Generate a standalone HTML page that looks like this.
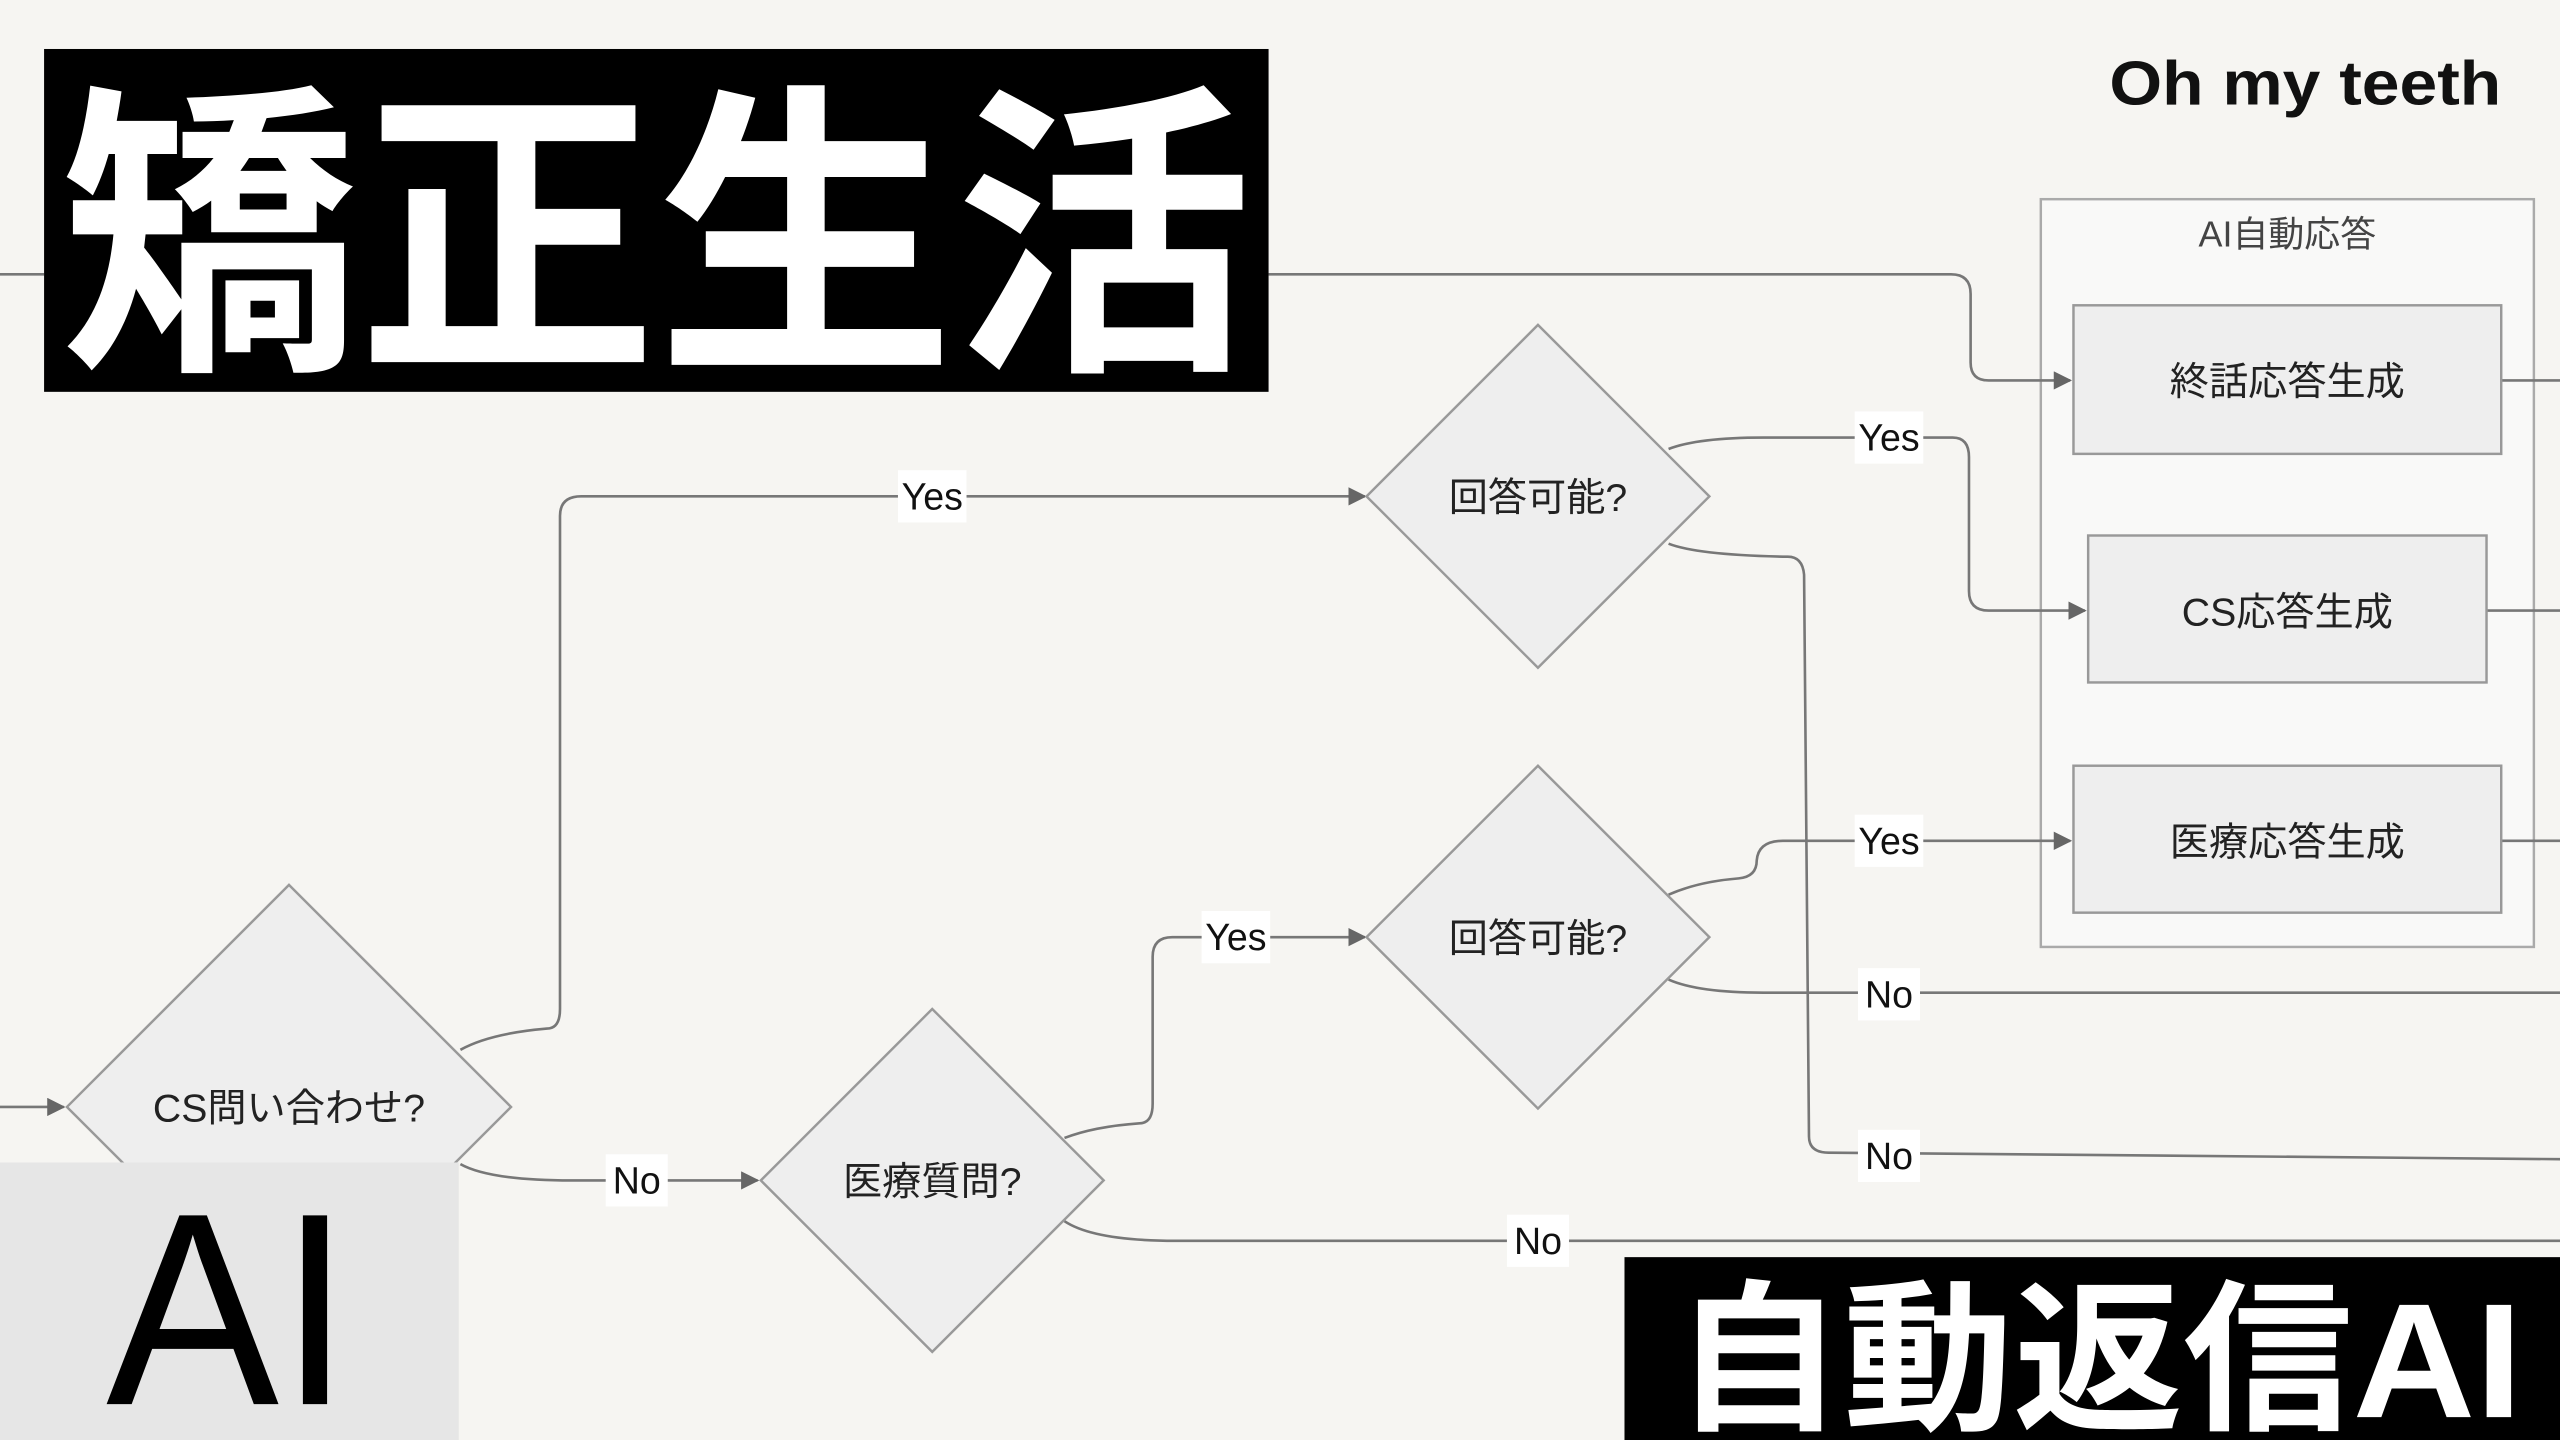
<!DOCTYPE html>
<html><head><meta charset="utf-8"><style>
html,body{margin:0;padding:0;background:#f6f5f2;}
svg{display:block;}
</style></head><body>
<svg width="2560" height="1440" viewBox="0 0 1568 882" preserveAspectRatio="none" xmlns="http://www.w3.org/2000/svg" font-family="'Liberation Sans','Noto Sans CJK JP',sans-serif">
<defs><marker id="a" viewBox="0 0 10 10" refX="9" refY="5" markerWidth="7" markerHeight="7" orient="auto"><path d="M0,0L10,5L0,10z" fill="#666"/></marker></defs>
<rect width="1568" height="882" fill="#f6f5f2"/>
<rect x="1250" y="122" width="302" height="458" fill="#f9f9f8" stroke="#aaa" stroke-width="1.5"/>
<text x="1401" y="151" font-size="22" text-anchor="middle" fill="#444">AI自動応答</text>
<g fill="none" stroke="#777" stroke-width="1.6">
<path d="M0,168 H27"/>
<path d="M777,168 H1195 Q1207,168 1207,180 V222 Q1207,233 1218,233 H1268" marker-end="url(#a)"/>
<path d="M1532,233 H1568"/><path d="M1523,374 H1568"/><path d="M1532,515 H1568"/>
<path d="M0,678 H39" marker-end="url(#a)"/>
<path d="M282,643 Q300,633 335,630 Q343,630 343,618 V316 Q343,304 356,304 H836" marker-end="url(#a)"/>
<path d="M282,713 Q300,723 350,723 H464" marker-end="url(#a)"/>
<path d="M652,697 Q670,690 698,688 Q706,688 706,676 V586 Q706,574 718,574 H836" marker-end="url(#a)"/>
<path d="M652,748 Q670,760 720,760 H1568"/>
<path d="M1022,275 Q1040,268 1080,268 H1196 Q1206,268 1206,280 V362 Q1206,374 1218,374 H1277" marker-end="url(#a)"/>
<path d="M1022,333 Q1040,340 1095,341 Q1104,341 1105,352 L1108,696 Q1108,706 1120,706 L1568,710"/>
<path d="M1022,548 Q1040,540 1065,538 Q1076,537 1076,527 Q1077,515 1092,515 H1268" marker-end="url(#a)"/>
<path d="M1022,600 Q1040,608 1080,608 H1568"/>
</g>
<g fill="#eeeeee" stroke="#999" stroke-width="1.5">
<rect x="1270" y="187" width="262" height="91"/>
<rect x="1279" y="328" width="244" height="90"/>
<rect x="1270" y="469" width="262" height="90"/>
<polygon points="942,199 1047,304 942,409 837,304"/>
<polygon points="942,469 1047,574 942,679 837,574"/>
<polygon points="177,542 313,678 177,814 41,678"/>
<polygon points="571,618 676,723 571,828 466,723"/>
</g>
<g font-size="24" fill="#222" text-anchor="middle">
<text x="1401" y="242">終話応答生成</text>
<text x="1401" y="383">CS応答生成</text>
<text x="1401" y="524">医療応答生成</text>
<text x="942" y="313">回答可能?</text>
<text x="942" y="583">回答可能?</text>
<text x="177" y="687">CS問い合わせ?</text>
<text x="571" y="732">医療質問?</text>
</g>
<g font-size="23" fill="#111" text-anchor="middle">
<rect x="550" y="288" width="42" height="32" fill="#fff"/><text x="571" y="312">Yes</text>
<rect x="371" y="707" width="38" height="32" fill="#fff"/><text x="390" y="731">No</text>
<rect x="736" y="558" width="42" height="32" fill="#fff"/><text x="757" y="582">Yes</text>
<rect x="923" y="744" width="38" height="32" fill="#fff"/><text x="942" y="768">No</text>
<rect x="1136" y="252" width="42" height="32" fill="#fff"/><text x="1157" y="276">Yes</text>
<rect x="1136" y="499" width="42" height="32" fill="#fff"/><text x="1157" y="523">Yes</text>
<rect x="1138" y="593" width="38" height="32" fill="#fff"/><text x="1157" y="617">No</text>
<rect x="1138" y="692" width="38" height="32" fill="#fff"/><text x="1157" y="716">No</text>
</g>
<rect x="27" y="30" width="750" height="210" fill="#000"/>
<text x="402" y="212" font-size="188" font-weight="bold" fill="#fff" text-anchor="middle" textLength="730" lengthAdjust="spacingAndGlyphs">矯正生活</text>
<text x="1412" y="64" font-size="38" font-weight="bold" fill="#111" text-anchor="middle" textLength="240" lengthAdjust="spacingAndGlyphs">Oh my teeth</text>
<rect x="0" y="712" width="281" height="170" fill="#e6e6e6"/>
<text x="140" y="860" font-size="168" fill="#000" text-anchor="middle" textLength="150" lengthAdjust="spacingAndGlyphs">AI</text>
<rect x="995" y="770" width="573" height="112" fill="#000"/>
<text x="1285" y="868" font-size="100" font-weight="bold" fill="#fff" text-anchor="middle" textLength="520" lengthAdjust="spacingAndGlyphs">自動返信AI</text>
</svg>
</body></html>
